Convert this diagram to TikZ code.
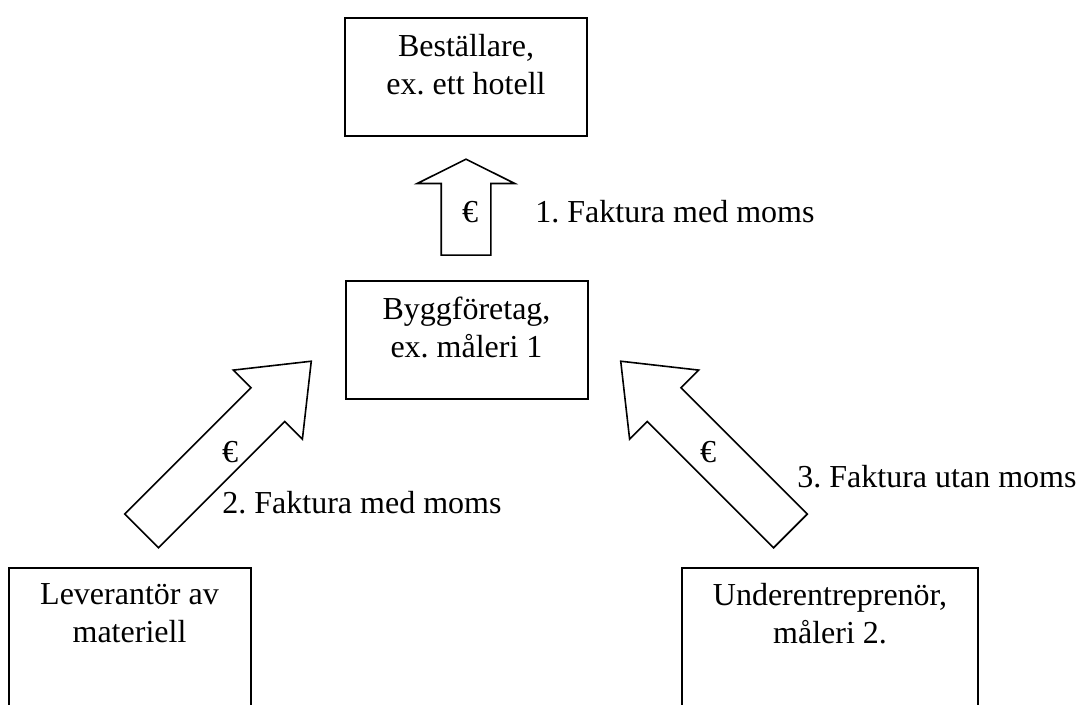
\documentclass[tikz,border=0pt]{standalone}
\usepackage{fontspec}
\setmainfont{Liberation Serif}
\usetikzlibrary{positioning,shapes.arrows}
\frenchspacing

\begin{document}
\begin{tikzpicture}[x=0.5pt,y=0.5pt,
    every node/.style={font=\fontsize{16}{19}\selectfont, inner sep=0pt},
    box/.style={draw, line width=1pt, minimum width=121pt, minimum height=59pt},
    boxtext/.style={align=center},
    blockarrow/.style={single arrow, draw, line width=0.8pt, anchor=tail,
                       single arrow head indent=0pt},
    shortarrow/.style={blockarrow, minimum height=48pt, inner ysep=12pt,
                       single arrow head extend=12pt, single arrow tip angle=127},
    longarrow/.style={blockarrow, minimum height=120pt, inner ysep=11.5pt,
                      single arrow head extend=12.5pt, single arrow tip angle=77}]
  \useasboundingbox (0,0) rectangle (1080,705);
  \clip (0,0) rectangle (1080,705);

  % the boxes
  \node[box] (bestall) at (466,627.5) {};
  \node[box] (bygg) at (466.5,364.5) {};
  \node[box, minimum height=85pt] (lev) at (129.5,52) {};
  \node[box, minimum width=148pt, minimum height=85pt] (under) at (830,52) {};

  \node[boxtext, below=8pt of bestall.north] (bestall-text) {Beställare,\\ex. ett hotell};
  \node[boxtext, below=8pt of bygg.north] (bygg-text) {Byggföretag,\\ex. måleri 1};
  \node[boxtext, below=8pt of lev.north] (lev-text) {Leverantör av\\materiell};
  \node[boxtext, below=8pt of under.north] (under-text) {Underentreprenör,\\måleri 2.};

  % the invoices
  \node[shortarrow, rotate=90] (pil1) at (466,449) {};
  \node[longarrow, rotate=45] (pil2) at (141,173.5) {};
  \node[longarrow, rotate=135] (pil3) at (791,173.5) {};

  \node (euro1) at (470,493) {€};
  \node (euro2) at (230,253) {€};
  \node (euro3) at (708,253) {€};

  \node[anchor=west] (faktura1) at (535,493) {1. Faktura med moms};
  \node[anchor=west] (faktura2) at (222,202) {2. Faktura med moms};
  \node[anchor=west] (faktura3) at (797,228) {3. Faktura utan moms};
\end{tikzpicture}
\end{document}
